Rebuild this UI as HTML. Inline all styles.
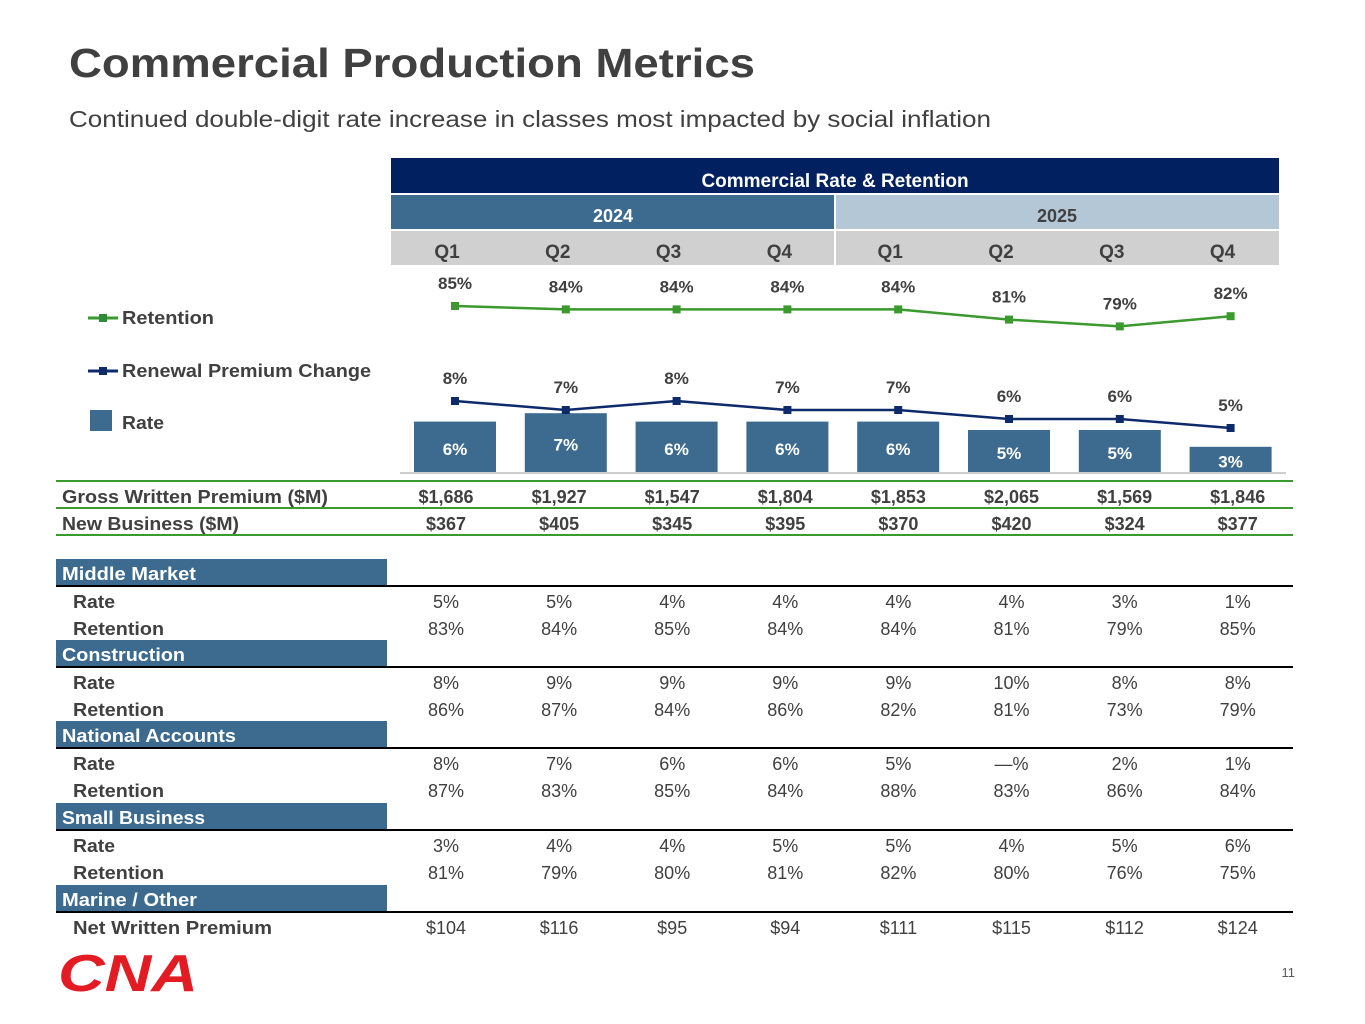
<!DOCTYPE html>
<html><head><meta charset="utf-8"><style>
html,body{margin:0;padding:0;background:#fff;}
svg{display:block;font-family:"Liberation Sans",sans-serif;}
</style></head><body>
<svg id="s" width="1365" height="1024" viewBox="0 0 1365 1024" xmlns="http://www.w3.org/2000/svg">
<text x="69" y="77" font-size="41" font-weight="bold" fill="#404040" textLength="686" lengthAdjust="spacingAndGlyphs">Commercial Production Metrics</text>
<text x="69" y="127" font-size="23" fill="#404040" textLength="922" lengthAdjust="spacingAndGlyphs">Continued double-digit rate increase in classes most impacted by social inflation</text>
<rect x="391" y="158" width="888" height="35" fill="#002060"/>
<text x="835" y="187" font-size="19" font-weight="bold" fill="#fff" text-anchor="middle">Commercial Rate &amp; Retention</text>
<rect x="391" y="195" width="443" height="34" fill="#3d6b8f"/>
<rect x="836" y="195" width="443" height="34" fill="#b4c7d6"/>
<text x="613" y="222" font-size="18" font-weight="bold" fill="#fff" text-anchor="middle">2024</text>
<text x="1057" y="222" font-size="18" font-weight="bold" fill="#404040" text-anchor="middle">2025</text>
<rect x="391" y="231" width="443" height="34" fill="#d0d0d0"/>
<rect x="836" y="231" width="443" height="34" fill="#d0d0d0"/>
<g id="q"></g>
<g>
<line x1="88" y1="318" x2="118" y2="318" stroke="#3a9a2e" stroke-width="3"/><rect x="99" y="314" width="8" height="8" fill="#2e8b3a"/>
<text x="122" y="324" font-size="18" font-weight="bold" fill="#404040" textLength="92" lengthAdjust="spacingAndGlyphs">Retention</text>
<line x1="88" y1="371" x2="118" y2="371" stroke="#0d2a6b" stroke-width="3"/><rect x="99" y="367" width="8" height="8" fill="#0d2a6b"/>
<text x="122" y="377" font-size="18" font-weight="bold" fill="#404040" textLength="249" lengthAdjust="spacingAndGlyphs">Renewal Premium Change</text>
<rect x="90" y="410" width="22" height="21" fill="#3d6b8f"/>
<text x="122" y="429" font-size="18" font-weight="bold" fill="#404040" textLength="42" lengthAdjust="spacingAndGlyphs">Rate</text>
</g>
<g id="chart"></g>
<g id="tbl"></g>
<g>
<text x="58" y="991" font-size="52" font-weight="bold" font-style="italic" fill="#e31b23" textLength="140" lengthAdjust="spacingAndGlyphs">CNA</text>
</g>
<text x="1295" y="977" font-size="13" fill="#595959" text-anchor="end">11</text>
</svg>
<script>
const quarters=["Q1","Q2","Q3","Q4","Q1","Q2","Q3","Q4"];
const rateVals=[6,7,6,6,6,5,5,3];
const renewalVals=[8,7,8,7,7,6,6,5];
const retentionVals=[85,84,84,84,84,81,79,82];
const gwp=["$1,686","$1,927","$1,547","$1,804","$1,853","$2,065","$1,569","$1,846"];
const newBiz=["$367","$405","$345","$395","$370","$420","$324","$377"];
const segNames=["Middle Market","Construction","National Accounts","Small Business"];
const segRate=[["5%","5%","4%","4%","4%","4%","3%","1%"],["8%","9%","9%","9%","9%","10%","8%","8%"],["8%","7%","6%","6%","5%","—%","2%","1%"],["3%","4%","4%","5%","5%","4%","5%","6%"]];
const segRet=[["83%","84%","85%","84%","84%","81%","79%","85%"],["86%","87%","84%","86%","82%","81%","73%","79%"],["87%","83%","85%","84%","88%","83%","86%","84%"],["81%","79%","80%","81%","82%","80%","76%","75%"]];
const nwp=["$104","$116","$95","$94","$111","$115","$112","$124"];

const NS="http://www.w3.org/2000/svg";
function mk(tag,attrs,parent,txt){const e=document.createElementNS(NS,tag);for(const k in attrs)e.setAttribute(k,attrs[k]);if(txt!==undefined)e.textContent=txt;parent.appendChild(e);return e;}
const xC=i=>455+i*110.8;
const yBar=v=>472-8.4*v;
const yRen=v=>473-9*v;
const yRet=v=>306-3.4*(v-85);
const xT=i=>446+i*113.1;
const labelW={"Gross Written Premium ($M)":266,"New Business ($M)":177,"Middle Market":134,"Construction":123,"National Accounts":174,"Small Business":143,"Marine / Other":135,"Rate":42,"Retention":91,"Net Written Premium":199};

const q=document.getElementById('q');
quarters.forEach((t,i)=>{const e=mk('text',{x:xC(i)-8,y:258,'font-size':19,'font-weight':'bold',fill:'#404040','text-anchor':'middle'},q,t);

});

const c=document.getElementById('chart');
rateVals.forEach((v,i)=>{const r=mk('rect',{x:xC(i)-41,y:yBar(v),width:82,height:472-yBar(v),fill:'#3d6b8f'},c);


const t=mk('text',{x:xC(i),y:(yBar(v)+472)/2+8,'font-size':17,'font-weight':'bold',fill:'#fff','text-anchor':'middle'},c,v+'%');

});
mk('line',{x1:400,y1:473,x2:1286,y2:473,stroke:'#bfbfbf','stroke-width':1.5},c);
function series(vals,yf,col,name){
const pl=mk('polyline',{points:vals.map((v,i)=>xC(i)+','+yf(v)).join(' '),fill:'none',stroke:col,'stroke-width':2.5},c);


vals.forEach((v,i)=>{const m=mk('rect',{x:xC(i)-4,y:yf(v)-4,width:8,height:8,fill:col},c);


const t=mk('text',{x:xC(i),y:yf(v)-17,'font-size':17,'font-weight':'bold',fill:'#404040','text-anchor':'middle'},c,v+'%');

});}
series(retentionVals,yRet,'#3a9a2e','retention');
series(renewalVals,yRen,'#0d2a6b','renewal-premium-change');

const tb=document.getElementById('tbl');
[481,508,535].forEach(y=>mk('line',{x1:56,y1:y,x2:1293,y2:y,stroke:'#3a9a2e','stroke-width':2},tb));
function row(label,vals,y,bold,indent,name){
const l=mk('text',{x:indent,y:y,'font-size':18,'font-weight':'bold',fill:'#404040',textLength:labelW[label],lengthAdjust:'spacingAndGlyphs'},tb,label);


vals.forEach((v,i)=>{const t=mk('text',{x:xT(i),y:y,'font-size':18,'font-weight':bold?'bold':'normal',fill:'#404040','text-anchor':'middle'},tb,v);

});}
row('Gross Written Premium ($M)',gwp,503,true,62,'gwp');
row('New Business ($M)',newBiz,530,true,62,'new-business');
const segY=[559,640,721,803];
segNames.concat(['Marine / Other']).forEach((n,k)=>{const y=k<4?segY[k]:885;
const r=mk('rect',{x:56,y:y,width:331,height:26,fill:'#3d6b8f'},tb);


const t=mk('text',{x:62,y:y+21,'font-size':18,'font-weight':'bold',fill:'#fff',textLength:labelW[n],lengthAdjust:'spacingAndGlyphs'},tb,n);


mk('line',{x1:56,y1:y+27,x2:1293,y2:y+27,stroke:'#000','stroke-width':2},tb);
if(k<4){row('Rate',segRate[k],y+49,false,73,'segment-rate');row('Retention',segRet[k],y+76,false,73,'segment-retention');}
else row('Net Written Premium',nwp,y+49,false,73,'net-written-premium');});
</script>
</body></html>
